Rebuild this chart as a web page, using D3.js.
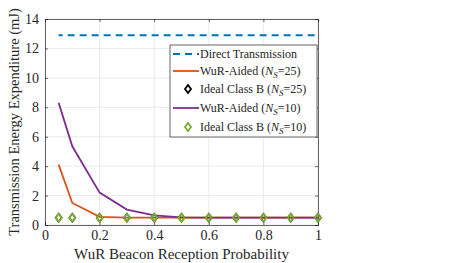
<!DOCTYPE html>
<html>
<head>
<meta charset="UTF-8">
<script src="https://d3js.org/d3.v7.min.js"></script>
<style>
  body { margin: 0; background: #fff; }
  text { font-family: "Liberation Serif", "Times New Roman", serif; fill: #262626; }
</style>
</head>
<body>
<svg id="chart" width="467" height="263"></svg>
<script>
// data
const xs = [0.05, 0.1, 0.2, 0.3, 0.4, 0.5, 0.6, 0.7, 0.8, 0.9, 1.0];
const direct = [12.9, 12.9, 12.9, 12.9, 12.9, 12.9, 12.9, 12.9, 12.9, 12.9, 12.9];
const wur25 = [4.1, 1.5, 0.55, 0.5, 0.5, 0.5, 0.5, 0.5, 0.5, 0.5, 0.5];
const ideal25 = [0.5, 0.5, 0.5, 0.5, 0.5, 0.5, 0.5, 0.5, 0.5, 0.5, 0.5];
const wur10 = [8.3, 5.35, 2.2, 1.05, 0.65, 0.52, 0.5, 0.5, 0.5, 0.5, 0.5];
const ideal10 = [0.5, 0.5, 0.5, 0.5, 0.5, 0.5, 0.5, 0.5, 0.5, 0.5, 0.5];
const xTicks = [0, 0.2, 0.4, 0.6, 0.8, 1];
const yTicks = [0, 2, 4, 6, 8, 10, 12, 14];

const svg = d3.select("#chart");
const m = { left: 45, right: 318, top: 19, bottom: 225 };

const x = d3.scaleLinear().domain([0, 1]).range([m.left, m.right]);
const y = d3.scaleLinear().domain([0, 14]).range([m.bottom, m.top]);

// grid
svg.append("g").selectAll("line").data(xTicks).join("line")
  .attr("x1", d => x(d)).attr("x2", d => x(d))
  .attr("y1", m.top).attr("y2", m.bottom)
  .attr("stroke", "#e6e6e6").attr("stroke-width", 0.8);
svg.append("g").selectAll("line").data(yTicks).join("line")
  .attr("y1", d => y(d)).attr("y2", d => y(d))
  .attr("x1", m.left).attr("x2", m.right)
  .attr("stroke", "#e6e6e6").attr("stroke-width", 0.8);

// axes
svg.append("g").attr("transform", `translate(0,${m.bottom})`)
  .call(d3.axisBottom(x).tickValues(xTicks).tickSize(-3).tickPadding(5).tickFormat(d3.format("")));
svg.append("g").attr("transform", `translate(${m.left},0)`)
  .call(d3.axisLeft(y).tickValues(yTicks).tickSize(-3).tickPadding(6));
svg.append("g").attr("transform", `translate(0,${m.top})`)
  .call(d3.axisTop(x).tickValues(xTicks).tickSize(-3).tickFormat(""));
svg.append("g").attr("transform", `translate(${m.right},0)`)
  .call(d3.axisRight(y).tickValues(yTicks).tickSize(-3).tickFormat(""));
svg.selectAll(".domain, .tick line").attr("stroke", "#262626").attr("stroke-width", 0.7);
svg.selectAll(".tick text").style("font-size", "14px").attr("fill", "#262626");

const line = d3.line().x((d, i) => x(xs[i])).y(d => y(d));

svg.append("path").datum(direct).attr("d", line)
  .attr("fill", "none").attr("stroke", "#0072BD").attr("stroke-width", 2)
  .attr("stroke-dasharray", "7,5").attr("stroke-dashoffset", -9);
svg.append("path").datum(wur25).attr("d", line)
  .attr("fill", "none").attr("stroke", "#D95319").attr("stroke-width", 1.8);
svg.append("path").datum(wur10).attr("d", line)
  .attr("fill", "none").attr("stroke", "#7E2F8E").attr("stroke-width", 1.8);

const diamond = (cx, cy) => `M${cx},${cy - 4}L${cx + 3},${cy}L${cx},${cy + 4}L${cx - 3},${cy}Z`;
svg.append("g").selectAll("path").data(ideal25).join("path")
  .attr("d", (d, i) => diamond(x(xs[i]), y(d)))
  .attr("fill", "none").attr("stroke", "#000").attr("stroke-width", 1.5);
svg.append("g").selectAll("path").data(ideal10).join("path")
  .attr("d", (d, i) => diamond(x(xs[i]), y(d)))
  .attr("fill", "none").attr("stroke", "#77AC30").attr("stroke-width", 1.8);

// axis labels
svg.append("text").attr("x", (m.left + m.right) / 2).attr("y", 259)
  .attr("text-anchor", "middle").style("font-size", "15px")
  .text("WuR Beacon Reception Probability");
svg.append("text").attr("transform", `translate(19,${(m.top + m.bottom) / 2}) rotate(-90)`)
  .attr("text-anchor", "middle").style("font-size", "14.5px")
  .text("Transmission Energy Expenditure (mJ)");

// legend
const lg = svg.append("g");
lg.append("rect").attr("x", 170).attr("y", 45).attr("width", 147).attr("height", 92)
  .attr("fill", "#fff").attr("stroke", "#262626").attr("stroke-width", 0.7);
const items = [
  { t: "Direct Transmission", ns: null, type: "dash", c: "#0072BD", yy: 54 },
  { t: "WuR-Aided (", ns: "=25)", type: "line", c: "#D95319", yy: 71 },
  { t: "Ideal Class B (", ns: "=25)", type: "mark", c: "#000", yy: 89 },
  { t: "WuR-Aided (", ns: "=10)", type: "line", c: "#7E2F8E", yy: 108 },
  { t: "Ideal Class B (", ns: "=10)", type: "mark", c: "#77AC30", yy: 127 }
];
items.forEach(it => {
  if (it.type === "dash") {
    lg.append("line").attr("x1", 173).attr("x2", 199).attr("y1", it.yy).attr("y2", it.yy)
      .attr("stroke", it.c).attr("stroke-width", 2).attr("stroke-dasharray", "7,5");
  } else if (it.type === "line") {
    lg.append("line").attr("x1", 173).attr("x2", 199).attr("y1", it.yy).attr("y2", it.yy)
      .attr("stroke", it.c).attr("stroke-width", 1.8);
  } else {
    lg.append("path").attr("d", diamond(188, it.yy)).attr("fill", "none")
      .attr("stroke", it.c).attr("stroke-width", 1.8);
  }
  const tx = lg.append("text").attr("x", 200).attr("y", it.yy + 4).style("font-size", "12px");
  tx.append("tspan").text(it.t);
  if (it.ns) {
    tx.append("tspan").style("font-style", "italic").text("N");
    tx.append("tspan").style("font-style", "italic").style("font-size", "9px").attr("dy", 3).text("S");
    tx.append("tspan").attr("dy", -3).text(it.ns);
  }
});
</script>
</body>
</html>
